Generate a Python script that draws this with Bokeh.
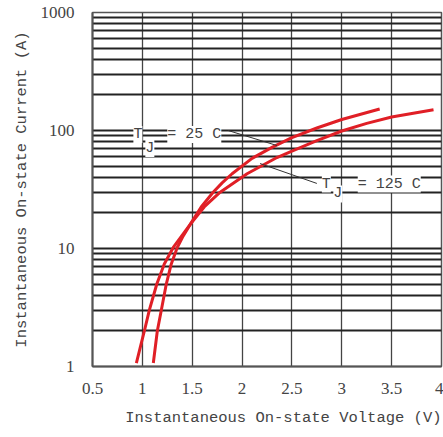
from bokeh.plotting import figure
from bokeh.models import FixedTicker, Label, Title
from bokeh.embed import file_html
from bokeh.resources import INLINE

# ---- data ----
# Tj = 125 C curve (lower threshold, flatter at high current)
v_125 = [0.94, 1.02, 1.07, 1.145, 1.22, 1.31, 1.48, 1.62, 1.78, 2.05, 2.35, 2.50,
         2.75, 3.00, 3.25, 3.50, 3.92]
i_125 = [1.07, 2.0, 3.0, 5.0, 7.4, 10.2, 16.0, 22.5, 30.0, 43.0, 59.0, 67.0,
         82.0, 99.0, 115.0, 130.0, 150.0]
# Tj = 25 C curve
v_25 = [1.11, 1.15, 1.19, 1.24, 1.29, 1.35, 1.41, 1.48, 1.59, 1.71, 1.80, 1.90, 2.10,
        2.30, 2.50, 2.75, 3.00, 3.38]
i_25 = [1.07, 2.0, 3.0, 5.0, 7.4, 10.2, 12.8, 16.0, 22.5, 30.0, 36.0, 43.0, 58.0,
        72.0, 87.0, 105.0, 124.0, 152.0]

x_ticks = [0.5, 1, 1.5, 2, 2.5, 3, 3.5, 4]
x_tick_labels = ["0.5", "1", "1.5", "2", "2.5", "3", "3.5", "4"]
y_ticks = [1, 10, 100, 1000]
y_tick_labels = ["1", "10", "100", "1000"]
y_minor = [2, 3, 4, 5, 6, 7, 8, 9, 20, 30, 40, 50, 60, 70, 80, 90,
           200, 300, 400, 500, 600, 700, 800, 900]

# annotations: leader lines (x0, y0) -> (x1, y1)
lead_x0 = [1.86, 2.18]
lead_y0 = [100.0, 52.5]
lead_x1 = [2.35, 2.75]
lead_y1 = [74.6, 35.6]
# label pieces: "T", subscript "J", rest
lab_t_x = [0.91, 2.80]
lab_t_y = [92.5, 35.2]
lab_j_x = [1.03, 2.915]
lab_j_y = [70.3, 29.0]
lab_r_x = [1.25, 3.16]
lab_r_y = [92.5, 35.2]
lab_r_text = ["= 25 C", "= 125 C"]

x_title = "Instantaneous On-state Voltage (V)"
y_title = "Instantaneous On-state Current (A)"

FONT = "Liberation Mono"
TICKFONT = "Liberation Serif"
TXT = "#444444"

p = figure(width=443, height=437, x_range=(0.5, 4), y_range=(1, 1000),
           y_axis_type="log", output_backend="svg", toolbar_location=None,
           min_border_left=92, min_border_right=2, min_border_top=12,
           min_border_bottom=71, background_fill_color="white",
           outline_line_color="#555555", outline_line_width=1.5)

p.xaxis.ticker = FixedTicker(ticks=x_ticks)
p.yaxis.ticker = FixedTicker(ticks=y_ticks, minor_ticks=y_minor)
p.xaxis.major_label_overrides = dict(zip(x_ticks, x_tick_labels))
p.yaxis.major_label_overrides = dict(zip(y_ticks, y_tick_labels))

for ax in (p.xaxis, p.yaxis):
    ax.major_tick_line_color = None
    ax.minor_tick_line_color = None
    ax.axis_line_color = "#555555"
    ax.axis_line_width = 2
    ax.major_label_text_font = TICKFONT
    ax.major_label_text_font_size = "17px"
    ax.major_label_text_color = TXT

p.xaxis.major_label_standoff = 10
p.yaxis.major_label_standoff = 12

p.add_layout(Title(text=x_title, align="right", offset=0, standoff=21,
                   text_font=FONT, text_font_size="15.5px", text_font_style="normal",
                   text_color=TXT), "below")
p.add_layout(Title(text=y_title, align="center", offset=16, standoff=14,
                   text_font=FONT, text_font_size="15.5px", text_font_style="normal",
                   text_color=TXT), "left")

p.xgrid.grid_line_color = "#444444"
p.xgrid.grid_line_width = 1.3
p.ygrid.grid_line_color = "#222222"
p.ygrid.grid_line_width = 2
p.ygrid.minor_grid_line_color = "#222222"
p.ygrid.minor_grid_line_width = 2

RED = "#e01f26"
p.line(v_125, i_125, line_color=RED, line_width=3)
p.line(v_25, i_25, line_color=RED, line_width=3)

p.segment(lead_x0, lead_y0, lead_x1, lead_y1, line_color="#333333", line_width=1)

for k in range(2):
    p.add_layout(Label(x=lab_t_x[k], y=lab_t_y[k], text="T", text_font=FONT,
                       text_font_size="15px", text_color=TXT, text_baseline="middle",
                       background_fill_color="white"))
    p.add_layout(Label(x=lab_j_x[k], y=lab_j_y[k], text="J", text_font=FONT,
                       text_font_size="15px", text_color=TXT, text_baseline="middle",
                       background_fill_color="white"))
    p.add_layout(Label(x=lab_r_x[k], y=lab_r_y[k], text=lab_r_text[k], text_font=FONT,
                       text_font_size="15px", text_color=TXT, text_baseline="middle",
                       background_fill_color="white"))

open("out.html", "w").write(file_html(p, INLINE))
